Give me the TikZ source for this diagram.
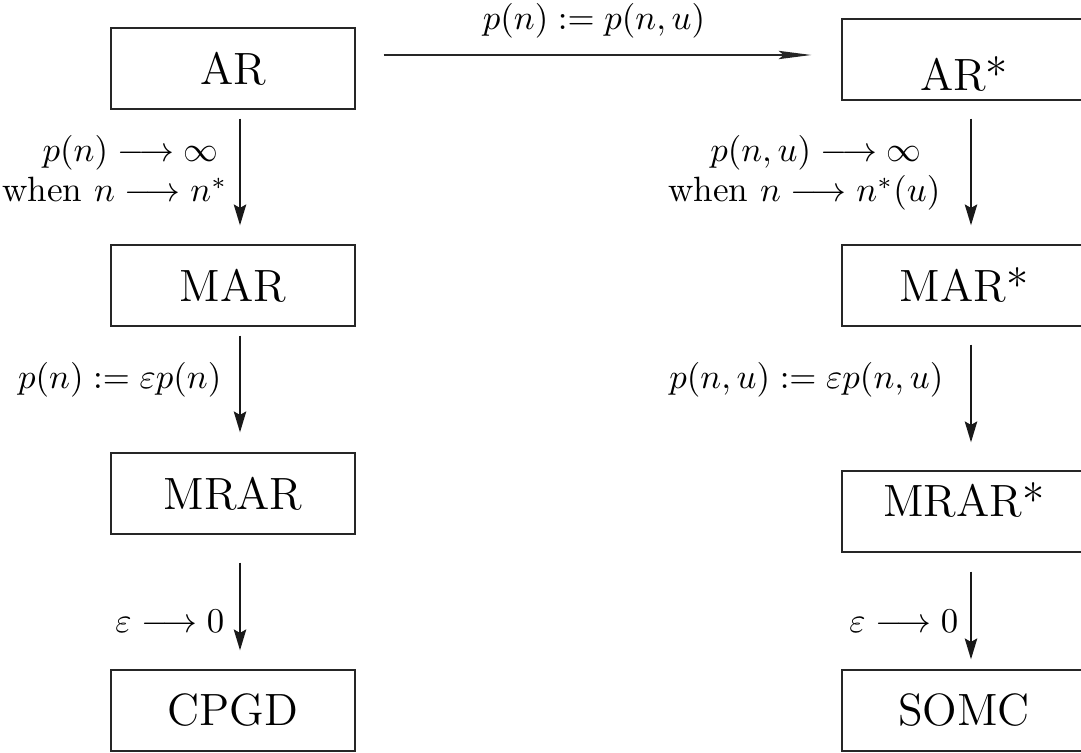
\documentclass[tikz,border=0pt]{standalone}
\usetikzlibrary{arrows.meta,calc}
\begin{document}
\begin{tikzpicture}[x=0.2874pt, y=-0.2874pt,
  box/.style={draw=black!85, line width=0.4pt, minimum width=70.13pt, minimum height=23.28pt,
              inner sep=0pt, font=\fontsize{13}{15}\selectfont},
  boxtext/.style={inner sep=0pt, font=\fontsize{13}{15}\selectfont},
  lbl/.style={inner sep=0pt, font=\fontsize{10.1}{12}\selectfont},
  varr/.style={draw=black!90, line width=0.45pt, -{Stealth[length=6pt, width=3.6pt, inset=1pt]}},
  harr/.style={draw=black!85, line width=0.4pt, -{Stealth[length=9.4pt, width=2.4pt, inset=1.5pt]}}]
\useasboundingbox (0,0) rectangle (1081,753);
% left column
\node[box] (AR)   at (233,68.5)  {AR};
\node[box] (MAR)  at (233,285.5) {MAR};
\node[box] (MRAR) at (233,493.5) {MRAR};
\node[box] (CPGD) at (233,710.5) {CPGD};
% right column
\node[box, label={[boxtext, yshift=-4.2pt]center:AR*}] (ARs) at (964,59.5) {};
\node[box] (MARs) at (964,285.5) {MAR*};
\node[box, label={[boxtext, yshift=3.3pt]center:MRAR*}] (MRARs) at (964,511.5) {};
\node[box] (SOMC) at (964,710.5) {SOMC};
% vertical arrows left
\draw[varr] ($(AR.south)+(7,9)$) -- ($(MAR.north)+(7,-19)$);
\draw[varr] ($(MAR.south)+(7,9)$) -- ($(MRAR.north)+(7,-20)$);
\draw[varr] ($(MRAR.south)+(7,28)$) -- ($(CPGD.north)+(7,-19)$);
% vertical arrows right
\draw[varr] ($(ARs.south)+(7,18)$) -- ($(MARs.north)+(7,-19)$);
\draw[varr] ($(MARs.south)+(7,18)$) -- ($(MRARs.north)+(7,-28)$);
\draw[varr] ($(MRARs.south)+(7,19)$) -- ($(SOMC.north)+(7,-10)$);
% horizontal arrow
\draw[harr] ($(AR.east)+(28,-13.5)$) -- ($(ARs.west)+(-30,-4.5)$);
% labels
\node[lbl, anchor=base] (lh) at (594,30) {$p(n) := p(n,u)$};
\node[lbl, anchor=base east] (l1a) at (219,162) {$p(n) \longrightarrow \infty$};
\node[lbl, anchor=base east] (l1b) at (228,202) {when $n \longrightarrow n^*$};
\node[lbl, anchor=base east] (l2) at (222,389) {$p(n) := \varepsilon p(n)$};
\node[lbl, anchor=base east] (l3) at (225,633) {$\varepsilon \longrightarrow 0$};
\node[lbl, anchor=base east] (r1a) at (922,162) {$p(n,u) \longrightarrow \infty$};
\node[lbl, anchor=base east] (r1b) at (941,202) {when $n \longrightarrow n^*(u)$};
\node[lbl, anchor=base east] (r2) at (944,389) {$p(n,u) := \varepsilon p(n,u)$};
\node[lbl, anchor=base east] (r3) at (959,633) {$\varepsilon \longrightarrow 0$};
\end{tikzpicture}
\end{document}
